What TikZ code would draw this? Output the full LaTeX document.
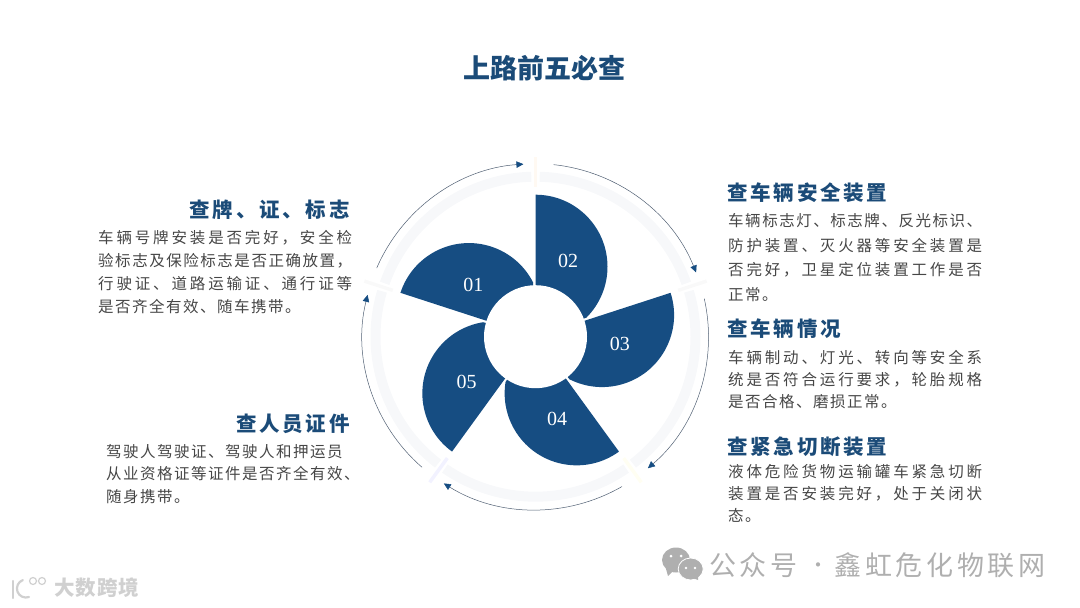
\documentclass[tikz,border=0pt]{standalone}
\usepackage{fontspec}
\usepackage{xcolor}
\usepackage{tikz}
\usetikzlibrary{arrows.meta, calc}
\setmainfont{Noto Sans CJK SC}
\newfontfamily\numfont{Liberation Serif}
\XeTeXlinebreaklocale "zh"
\definecolor{petalblue}  {RGB}{ 22,  77, 130}
\definecolor{titleblue}  {RGB}{ 27,  75, 120}
\definecolor{bodygray}   {RGB}{ 70,  70,  70}
\definecolor{ringgray}   {RGB}{247, 248, 250}
\definecolor{arcgray}    {RGB}{ 80,  95, 115}
\definecolor{markgray}   {RGB}{175, 175, 175}
\definecolor{logogray}   {RGB}{208, 208, 208}
\newcommand{\gapfont}[3]{\fontsize{#1}{#2}\selectfont\XeTeXlinebreakskip #3\relax}
\newcommand{\pg}{\hskip\XeTeXlinebreakskip\relax}
\tikzset{
	maintitle/.style={font=\fontsize{27}{30}\selectfont\bfseries, text=titleblue, inner sep=0pt},
	heading/.style={font=\bfseries\gapfont{20.5}{24}{2.8pt}, text=titleblue, inner sep=0pt, text width=170pt},
	bodytext/.style={text=bodygray, inner sep=0pt, anchor=north west, align=justify, text width=254pt},
	petal/.style={fill=petalblue, draw=none},
	ringpart/.style={draw=ringgray, line width=10pt},
	ringarrow/.style={draw=arcgray, line width=0.5pt, -{Triangle[length=7pt,width=6.5pt,color=petalblue]}},
	petalnum/.style={font=\numfont\fontsize{20}{22}\selectfont, text=white, inner sep=0pt},
	markname/.style={font=\gapfont{27}{30}{3.6pt}, text=markgray, inner sep=0pt, anchor=west, text width=340pt},
}

\begin{document}
\begin{tikzpicture}[x=1pt,y=-1pt]
	\useasboundingbox (0,0) rectangle (1080,608);
	\coordinate (hub) at (535.5,336.7);
	\coordinate (numhub) at (537,338);

	\node[maintitle] (title) at (544,68) {上路前五必查};

	% faint ring and the marks between its parts
	\foreach \ang/\tint in {90/orange,18/gray,-54/yellow,-126/blue,162/gray}{
		\draw[ringpart] ($(hub)+(\ang-70.5:160pt)$) arc[start angle=\ang-70.5, end angle=\ang-1.5, radius=160pt];
		\draw[draw=\tint!5, line width=3.5pt] ($(hub)+(\ang:150pt)$) -- ($(hub)+(\ang:180pt)$);
	}

	% thin arcs with arrow tips
	\foreach \from/\to in {84/21.8, 12.7/-49.5, -60/-122, -131/-194, 156.6/94}{
		\draw[ringarrow] ($(hub)+(\from:173pt)$) arc[start angle=\from, end angle=\to, radius=173pt];
	}

	% petals
	\foreach \ang in {90,18,-54,-126,162}{
		\fill[petal] (hub) -- ($(hub)+(\ang:142pt)$) arc[start angle=\ang, end angle=\ang-135, radius=72pt] -- cycle;
	}
	\fill[white] (hub) circle[radius=51.5pt];
	\foreach \ang/\num in {90/02,18/03,-54/04,-126/05,162/01}{
		\node[petalnum] (num\num) at ($(numhub)+(\ang-22:83pt)$) {\num};
	}

	% left column
	\node[heading, anchor=east, align=right] (headplate) at (350,209.5) {查牌\pg 、证\pg 、标志};
	\node[bodytext, font=\gapfont{15.5}{23}{1.5pt plus 4pt minus 0.5pt}] (bodyplate) at (98,230) {车辆号牌安装是否完好\pg ，安全检\linebreak 验标志及保险标志是否正确放置\pg ，\linebreak 行驶证\pg 、道路运输证\pg 、通行证等\linebreak 是否齐全有效\pg 、随车携带\pg 。};
	\node[heading, anchor=east, align=right] (headstaff) at (350,423.5) {查人员证件};
	\node[bodytext, font=\gapfont{15.5}{22.5}{1.5pt plus 4pt minus 0.5pt}, align=left] (bodystaff) at (106,444) {驾驶人驾驶证\pg 、驾驶人和押运员\\从业资格证等证件是否齐全有效\pg 、\\随身携带\pg 。};

	% right column
	\node[heading, anchor=west, align=left] (headsafe) at (727,192.5) {查车辆安全装置};
	\node[bodytext, font=\gapfont{15.5}{24.5}{1.5pt plus 4pt minus 0.5pt}] (bodysafe) at (728,213.5) {车辆标志灯\pg 、标志牌\pg 、反光标识\pg 、\linebreak 防护装置\pg 、灭火器等安全装置是\linebreak 否完好\pg ，卫星定位装置工作是否\linebreak 正常\pg 。};
	\node[heading, anchor=west, align=left] (headcar) at (727,328.5) {查车辆情况};
	\node[bodytext, font=\gapfont{15.5}{22}{1.5pt plus 4pt minus 0.5pt}] (bodycar) at (728,350.5) {车辆制动\pg 、灯光\pg 、转向等安全系\linebreak 统是否符合运行要求\pg ，轮胎规格\linebreak 是否合格\pg 、磨损正常\pg 。};
	\node[heading, anchor=west, align=left] (headcut) at (727,446.5) {查紧急切断装置};
	\node[bodytext, font=\gapfont{15.5}{21.7}{1.5pt plus 4pt minus 0.5pt}] (bodycut) at (728,464.5) {液体危险货物运输罐车紧急切断\linebreak 装置是否安装完好\pg ，处于关闭状\linebreak 态\pg 。};

	% marks in the lower corners
	\fill[markgray] (676,560) ellipse[x radius=14pt, y radius=12.5pt];
	\fill[markgray] (666,569) -- (668,576) -- (674,570) -- cycle;
	\fill[markgray, draw=white, line width=0.8pt] (690.7,569) ellipse[x radius=12.5pt, y radius=11pt];
	\fill[markgray] (693,578) -- (698,580) -- (698,575) -- cycle;
	\fill[white] (671,556) circle[radius=1.5pt] (681,556) circle[radius=1.5pt];
	\fill[white] (686,568) circle[radius=1.3pt] (695,568) circle[radius=1.3pt];
	\node[markname] (markfirst) at (709,565) {公众号};
	\node[font=\fontsize{20}{24}\selectfont, text=markgray, inner sep=0pt] (markdot) at (818,568) {·};
	\node[markname] (marksecond) at (834.5,565) {鑫虹危化物联网};

	\draw[logogray, line width=2.2pt, line cap=round] (13,581) -- (13,598);
	\draw[logogray, line width=2.2pt, line cap=round] (29,597) arc[start angle=-70, end angle=-250, radius=9pt];
	\draw[logogray, line width=1.2pt] (33,581) circle[radius=3.5pt] (42,581) circle[radius=3.5pt];
	\node[font=\bfseries\gapfont{20.5}{24}{1pt}, text=logogray, inner sep=0pt, anchor=west, text width=110pt] (logoname) at (54,587.5) {大数跨境};
\end{tikzpicture}
\end{document}
